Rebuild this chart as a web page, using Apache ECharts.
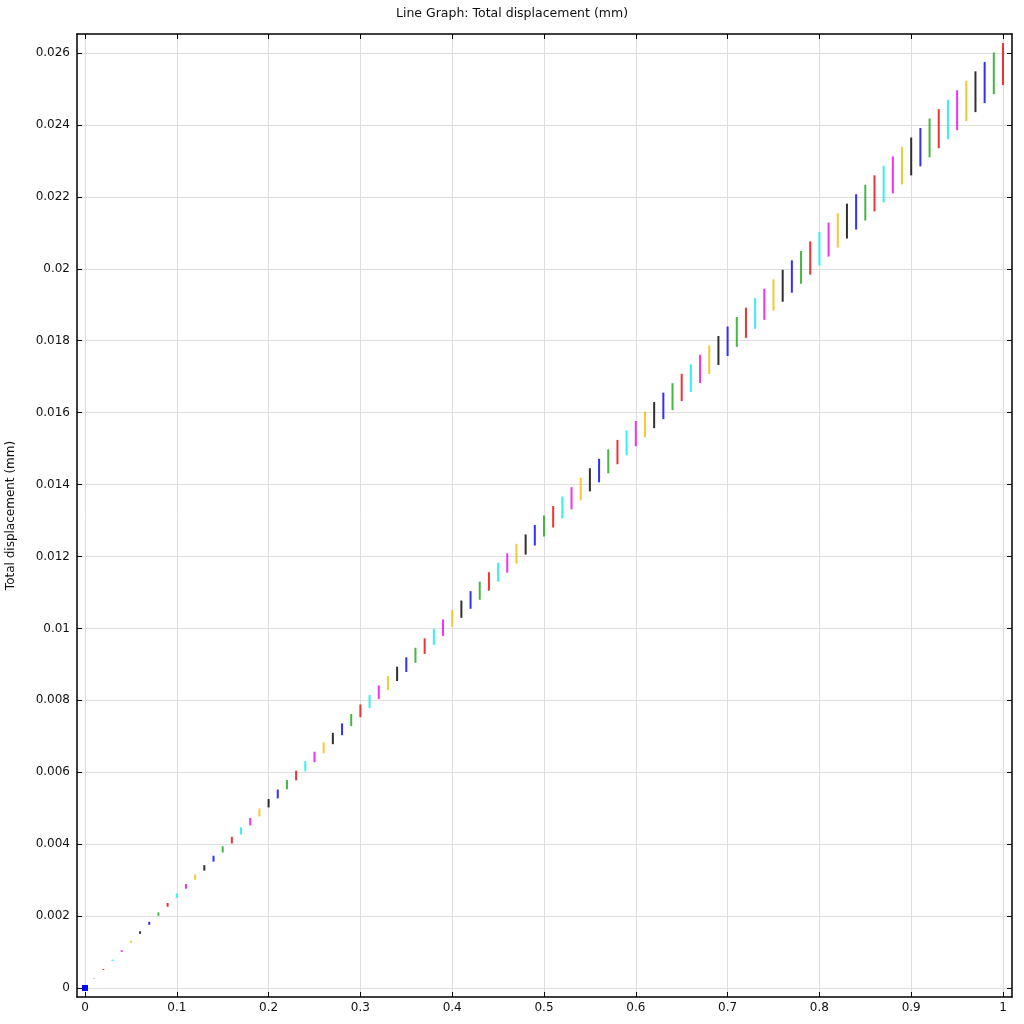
<!DOCTYPE html>
<html>
<head>
<meta charset="utf-8">
<script src="https://cdn.jsdelivr.net/npm/echarts@6/dist/echarts.min.js"></script>
<style>html,body{margin:0;padding:0;background:#fff}#c{width:1024px;height:1024px}</style>
</head>
<body>
<div id="c"></div>
<script>
const titleText = 'Line Graph: Total displacement (mm)';
const yAxisName = 'Total displacement (mm)';
const xTicks = [0, 0.1, 0.2, 0.3, 0.4, 0.5, 0.6, 0.7, 0.8, 0.9, 1];
const yTicks = [0, 0.002, 0.004, 0.006, 0.008, 0.01, 0.012, 0.014, 0.016, 0.018, 0.02, 0.022, 0.024, 0.026];
const colorCycle = ['#1a1aff', '#2fb02f', '#f01c1c', '#1cf0f0', '#f01cf0', '#f5c21c', '#1a1a1a'];

const xValues = [0,0.01,0.02,0.03,0.04,0.05,0.06,0.07,0.08,0.09,0.1,0.11,0.12,0.13,0.14,0.15,0.16,0.17,0.18,0.19,0.2,0.21,0.22,0.23,0.24,0.25,0.26,0.27,0.28,0.29,0.3,0.31,0.32,0.33,0.34,0.35,0.36,0.37,0.38,0.39,0.4,0.41,0.42,0.43,0.44,0.45,0.46,0.47,0.48,0.49,0.5,0.51,0.52,0.53,0.54,0.55,0.56,0.57,0.58,0.59,0.6,0.61,0.62,0.63,0.64,0.65,0.66,0.67,0.68,0.69,0.7,0.71,0.72,0.73,0.74,0.75,0.76,0.77,0.78,0.79,0.8,0.81,0.82,0.83,0.84,0.85,0.86,0.87,0.88,0.89,0.9,0.91,0.92,0.93,0.94,0.95,0.96,0.97,0.98,0.99,1];

const maxDisp = [0,0.000263,0.000526,0.000788,0.001051,0.001314,0.001577,0.00184,0.002102,0.002365,
0.002628,0.002891,0.003154,0.003416,0.003679,0.003942,0.004205,0.004468,0.00473,0.004993,
0.005256,0.005519,0.005782,0.006044,0.006307,0.00657,0.006833,0.007096,0.007358,0.007621,
0.007884,0.008147,0.00841,0.008672,0.008935,0.009198,0.009461,0.009724,0.009986,0.010249,
0.010512,0.010775,0.011038,0.0113,0.011563,0.011826,0.012089,0.012352,0.012614,0.012877,
0.01314,0.013403,0.013666,0.013928,0.014191,0.014454,0.014717,0.01498,0.015242,0.015505,
0.015768,0.016031,0.016294,0.016556,0.016819,0.017082,0.017345,0.017608,0.01787,0.018133,
0.018396,0.018659,0.018922,0.019184,0.019447,0.01971,0.019973,0.020236,0.020498,0.020761,
0.021024,0.021287,0.02155,0.021812,0.022075,0.022338,0.022601,0.022864,0.023126,0.023389,
0.023652,0.023915,0.024178,0.02444,0.024703,0.024966,0.025229,0.025492,0.025754,0.026017,0.02628];

const minDisp = [0,0.000251,0.000502,0.000753,0.001004,0.001256,0.001507,0.001758,0.002009,0.00226,
0.002511,0.002762,0.003013,0.003264,0.003515,0.003767,0.004018,0.004269,0.00452,0.004771,
0.005022,0.005273,0.005524,0.005775,0.006026,0.006278,0.006529,0.00678,0.007031,0.007282,
0.007533,0.007784,0.008035,0.008286,0.008537,0.008789,0.00904,0.009291,0.009542,0.009793,
0.010044,0.010295,0.010546,0.010797,0.011048,0.0113,0.011551,0.011802,0.012053,0.012304,
0.012555,0.012806,0.013057,0.013308,0.013559,0.013811,0.014062,0.014313,0.014564,0.014815,
0.015066,0.015317,0.015568,0.015819,0.01607,0.016322,0.016573,0.016824,0.017075,0.017326,
0.017577,0.017828,0.018079,0.01833,0.018581,0.018833,0.019084,0.019335,0.019586,0.019837,
0.020088,0.020339,0.02059,0.020841,0.021092,0.021344,0.021595,0.021846,0.022097,0.022348,
0.022599,0.02285,0.023101,0.023352,0.023603,0.023855,0.024106,0.024357,0.024608,0.024859,0.02511];

const seriesData = xValues.map((x, i) => [x, minDisp[i], maxDisp[i]]);

const FONT = 'DejaVu Sans';
const chart = echarts.init(document.getElementById('c'), null, {renderer: 'canvas'});

const xMin = -0.0087, xMax = 1.0098;
const yMin = -0.00025, yMax = 0.02653;

function axisCommon(ticks, showLabel, isY) {
  return {
    axisLine: {show: true, onZero: false, lineStyle: {color: '#000', width: 1.5}},
    axisTick: {show: true, inside: true, length: 5, customValues: ticks, lineStyle: {color: '#000', width: 1}},
    axisLabel: {show: showLabel, customValues: ticks, color: '#111', fontFamily: FONT, fontSize: 12, margin: isY ? 7 : 5},
    splitLine: {show: showLabel, lineStyle: {color: '#dedede', width: 1}}
  };
}

chart.setOption({
  animation: false,
  backgroundColor: '#fff',
  title: {
    text: titleText, left: 'center', top: 2,
    textStyle: {fontFamily: FONT, fontSize: 12.5, fontWeight: 'normal', color: '#111'}
  },
  grid: {left: 77, right: 12, top: 34, bottom: 27, containLabel: false, outerBoundsMode: 'none'},
  xAxis: [
    Object.assign({type: 'value', min: xMin, max: xMax, position: 'bottom'}, axisCommon(xTicks, true, false)),
    Object.assign({type: 'value', min: xMin, max: xMax, position: 'top'}, axisCommon(xTicks, false, false))
  ],
  yAxis: [
    Object.assign({type: 'value', min: yMin, max: yMax, position: 'left',
      name: yAxisName, nameLocation: 'middle', nameGap: 60,
      nameTextStyle: {fontFamily: FONT, fontSize: 12, color: '#111'}}, axisCommon(yTicks, true, true)),
    Object.assign({type: 'value', min: yMin, max: yMax, position: 'right'}, axisCommon(yTicks, false, true))
  ],
  series: [{
    type: 'custom',
    xAxisIndex: 0, yAxisIndex: 0,
    data: seriesData,
    encode: {x: 0, y: [1, 2]},
    renderItem: function (params, api) {
      const i = params.dataIndex;
      const x = api.value(0);
      const lo = api.coord([x, api.value(1)]);
      const hi = api.coord([x, api.value(2)]);
      const color = colorCycle[i % colorCycle.length];
      if (Math.abs(lo[1] - hi[1]) < 0.5 && i === 0) {
        return {type: 'rect', shape: {x: lo[0] - 3, y: lo[1] - 3, width: 6, height: 6}, style: {fill: '#0000ff'}};
      }
      return {
        type: 'line',
        shape: {x1: lo[0], y1: lo[1], x2: hi[0], y2: hi[1]},
        style: {stroke: color, lineWidth: 2, opacity: 0.9}
      };
    }
  }]
});
</script>
</body>
</html>
